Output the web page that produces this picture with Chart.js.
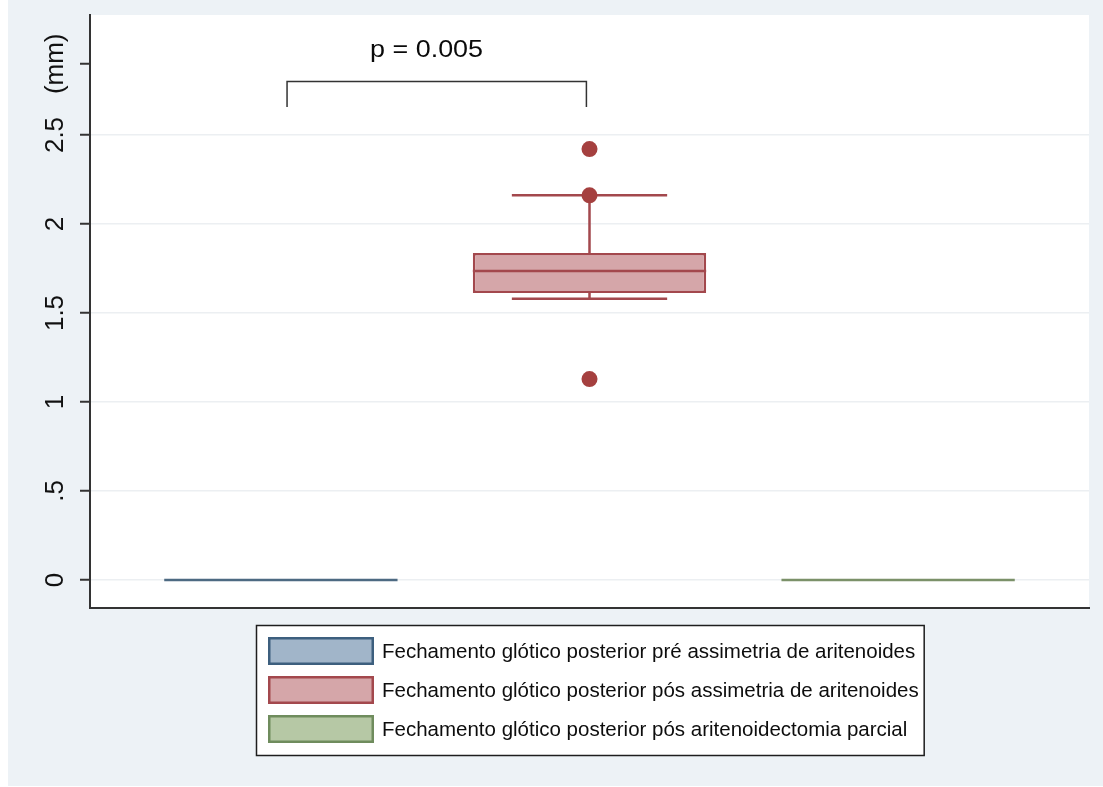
<!DOCTYPE html>
<html>
<head>
<meta charset="utf-8">
<script src="https://cdn.jsdelivr.net/npm/chart.js@4.4.1/dist/chart.umd.min.js"></script>
<style>
  html, body { margin: 0; padding: 0; background: #ffffff; }
  canvas { display: block; }
</style>
</head>
<body>
<canvas id="chart" width="1103" height="787"></canvas>
<script>
// Groups and box-plot summaries (mm)
const groupNames = [
  'Fechamento glótico posterior pré assimetria de aritenoides',
  'Fechamento glótico posterior pós assimetria de aritenoides',
  'Fechamento glótico posterior pós aritenoidectomia parcial'
];
const groupPos = [1, 2, 3];
const lowerWhisker = [0, 1.580, 0];
const q1 = [0, 1.612, 0];
const medians = [0, 1.736, 0];
const q3 = [0, 1.837, 0];
const upperWhisker = [0, 2.161, 0];

// Individual outlying observations
const outlierGroup = [2, 2, 2];
const outlierValues = [2.421, 2.161, 1.129];

// Y axis ticks
const yTickValues = [0, 0.5, 1, 1.5, 2, 2.5, 2.9];
const yTickLabels = ['0', '.5', '1', '1.5', '2', '2.5', '(mm)'];

// Significance bracket between the first two groups
const bracketX = [1.02, 1.99];
const bracketY = [2.657, 2.80];
const pLabel = 'p = 0.005';
const pLabelAt = [1.472, 2.975];

// Axis ranges
const xRange = [0.3815, 3.6185];
const yRange = [-0.1573, 3.1742];

// Styling
const FONT = '"Liberation Sans", Arial, Helvetica, sans-serif';
const fills = ['#a1b5c9', '#d5a6a9', '#b6c8a5'];
const edges = ['#4d6a82', '#a3484d', '#7b9169'];
const swatchEdges = ['#3d5f7e', '#a3484d', '#6f8c5d'];
const outlierColor = '#a5403f';
const axisColor = '#333333';
const BOX_HALF = 0.378;   // half box width, x units
const CAP_HALF = 0.2516;  // half whisker-cap width, x units

const datasets = [];

// Boxes (Q1..Q3) as floating bars
datasets.push({
  type: 'bar',
  label: 'box',
  data: groupPos.map((x, i) => ({ x: x, y: [q1[i], q3[i]] })),
  backgroundColor: fills,
  borderColor: edges,
  borderWidth: 2.5,
  borderSkipped: false,
  categoryPercentage: 1,
  barPercentage: BOX_HALF * 2,
  order: 3
});

groupPos.forEach((x, i) => {
  // Whiskers and caps (a group with no spread collapses to its median line)
  if (upperWhisker[i] > lowerWhisker[i]) {
    datasets.push({
      type: 'line',
      label: 'whisker' + i,
      data: [
        { x: x - CAP_HALF, y: lowerWhisker[i] }, { x: x + CAP_HALF, y: lowerWhisker[i] }, { x: x, y: null },
        { x: x, y: lowerWhisker[i] }, { x: x, y: q1[i] }, { x: x, y: null },
        { x: x, y: q3[i] }, { x: x, y: upperWhisker[i] }, { x: x, y: null },
        { x: x - CAP_HALF, y: upperWhisker[i] }, { x: x + CAP_HALF, y: upperWhisker[i] }
      ],
      borderColor: edges[i],
      borderWidth: 2.5,
      pointRadius: 0,
      spanGaps: false,
      tension: 0,
      fill: false,
      order: 4
    });
  }
  // Median line
  datasets.push({
    type: 'line',
    label: 'median' + i,
    data: [{ x: x - BOX_HALF, y: medians[i] }, { x: x + BOX_HALF, y: medians[i] }],
    borderColor: edges[i],
    borderWidth: 2.5,
    pointRadius: 0,
    tension: 0,
    fill: false,
    order: 2
  });
});

// Outliers
datasets.push({
  type: 'scatter',
  label: 'outliers',
  data: outlierValues.map((v, i) => ({ x: outlierGroup[i], y: v })),
  backgroundColor: outlierColor,
  borderColor: outlierColor,
  borderWidth: 0,
  pointRadius: 8,
  pointHoverRadius: 8,
  order: 1
});

// Significance bracket
datasets.push({
  type: 'line',
  label: 'bracket',
  data: [
    { x: bracketX[0], y: bracketY[0] }, { x: bracketX[0], y: bracketY[1] },
    { x: bracketX[1], y: bracketY[1] }, { x: bracketX[1], y: bracketY[0] }
  ],
  borderColor: '#333333',
  borderWidth: 1.5,
  pointRadius: 0,
  tension: 0,
  fill: false,
  order: 1
});

// Page background and white plot region
const backdrop = {
  id: 'backdrop',
  beforeDraw(chart) {
    const { ctx, chartArea: a } = chart;
    ctx.save();
    ctx.fillStyle = '#edf2f6';
    ctx.fillRect(8, 0, chart.width - 8, chart.height - 1);
    ctx.fillStyle = '#ffffff';
    ctx.fillRect(a.left, a.top, a.right - a.left, a.bottom - a.top);
    ctx.restore();
  }
};

// p-value text above the bracket
const pText = {
  id: 'pText',
  afterDatasetsDraw(chart) {
    const { ctx, scales } = chart;
    const px = scales.x.getPixelForValue(pLabelAt[0]);
    const py = scales.y.getPixelForValue(pLabelAt[1]);
    ctx.save();
    ctx.font = '23px ' + FONT;
    ctx.fillStyle = '#0a0a0a';
    ctx.textAlign = 'center';
    ctx.textBaseline = 'middle';
    ctx.translate(px, py);
    ctx.scale(1.17, 1);
    ctx.fillText(pLabel, 0, 0);
    ctx.restore();
  }
};

// Boxed legend below the plot
const boxLegend = {
  id: 'boxLegend',
  afterDraw(chart) {
    const { ctx, chartArea: a } = chart;
    const pad = 12, sw = 106, sh = 28, gap = 11, textGap = 8, padRight = 5, below = 17;
    ctx.save();
    ctx.font = '20.5px ' + FONT;
    const tw = Math.max(...groupNames.map(n => ctx.measureText(n).width));
    const w = pad + sw + textGap + tw + padRight;
    const h = pad * 2 + groupNames.length * sh + (groupNames.length - 1) * gap;
    const left = Math.round((a.left + a.right) / 2 - w / 2);
    const top = Math.round(a.bottom + below);
    ctx.fillStyle = '#ffffff';
    ctx.fillRect(left, top, w, h);
    ctx.strokeStyle = '#1e1e1e';
    ctx.lineWidth = 1.5;
    ctx.strokeRect(left + 0.5, top + 0.5, w, h);
    groupNames.forEach((name, i) => {
      const sy = top + pad + i * (sh + gap);
      const sx = left + pad;
      ctx.fillStyle = fills[i];
      ctx.fillRect(sx, sy, sw, sh);
      ctx.strokeStyle = swatchEdges[i];
      ctx.lineWidth = 2.5;
      ctx.strokeRect(sx + 1.25, sy + 1.25, sw - 2.5, sh - 2.5);
      ctx.fillStyle = '#0d0d0d';
      ctx.textAlign = 'left';
      ctx.textBaseline = 'middle';
      ctx.fillText(name, sx + sw + textGap, sy + sh / 2 + 1);
    });
    ctx.restore();
  }
};

new Chart(document.getElementById('chart'), {
  type: 'bar',
  data: { datasets: datasets },
  options: {
    responsive: false,
    animation: false,
    devicePixelRatio: 1,
    layout: { padding: { left: 8, top: 15, right: 14, bottom: 179 } },
    plugins: {
      legend: { display: false },
      tooltip: { enabled: false }
    },
    scales: {
      x: {
        type: 'linear',
        min: xRange[0],
        max: xRange[1],
        offset: false,
        afterBuildTicks: s => { s.ticks = groupPos.map(v => ({ value: v })); },
        afterFit: s => { s.height = 0; },
        ticks: { display: false },
        grid: { display: true, drawOnChartArea: false, drawTicks: false, offset: false },
        border: { display: true, color: axisColor, width: 2 }
      },
      y: {
        type: 'linear',
        min: yRange[0],
        max: yRange[1],
        afterBuildTicks: s => { s.ticks = yTickValues.map(v => ({ value: v })); },
        afterFit: s => { s.width = 82; },
        ticks: {
          callback: v => yTickLabels[yTickValues.indexOf(v)],
          minRotation: 90,
          maxRotation: 90,
          crossAlign: 'center',
          padding: -6,
          autoSkip: false,
          color: '#111111',
          font: { family: FONT, size: 26 }
        },
        grid: {
          color: c => (c.tick && c.tick.value === 2.9) ? 'rgba(0,0,0,0)' : '#eceff2',
          lineWidth: 1.5,
          drawTicks: true,
          tickLength: 10,
          tickColor: axisColor,
          tickWidth: 2
        },
        border: { display: true, color: axisColor, width: 2 }
      }
    }
  },
  plugins: [backdrop, pText, boxLegend]
});
</script>
</body>
</html>
